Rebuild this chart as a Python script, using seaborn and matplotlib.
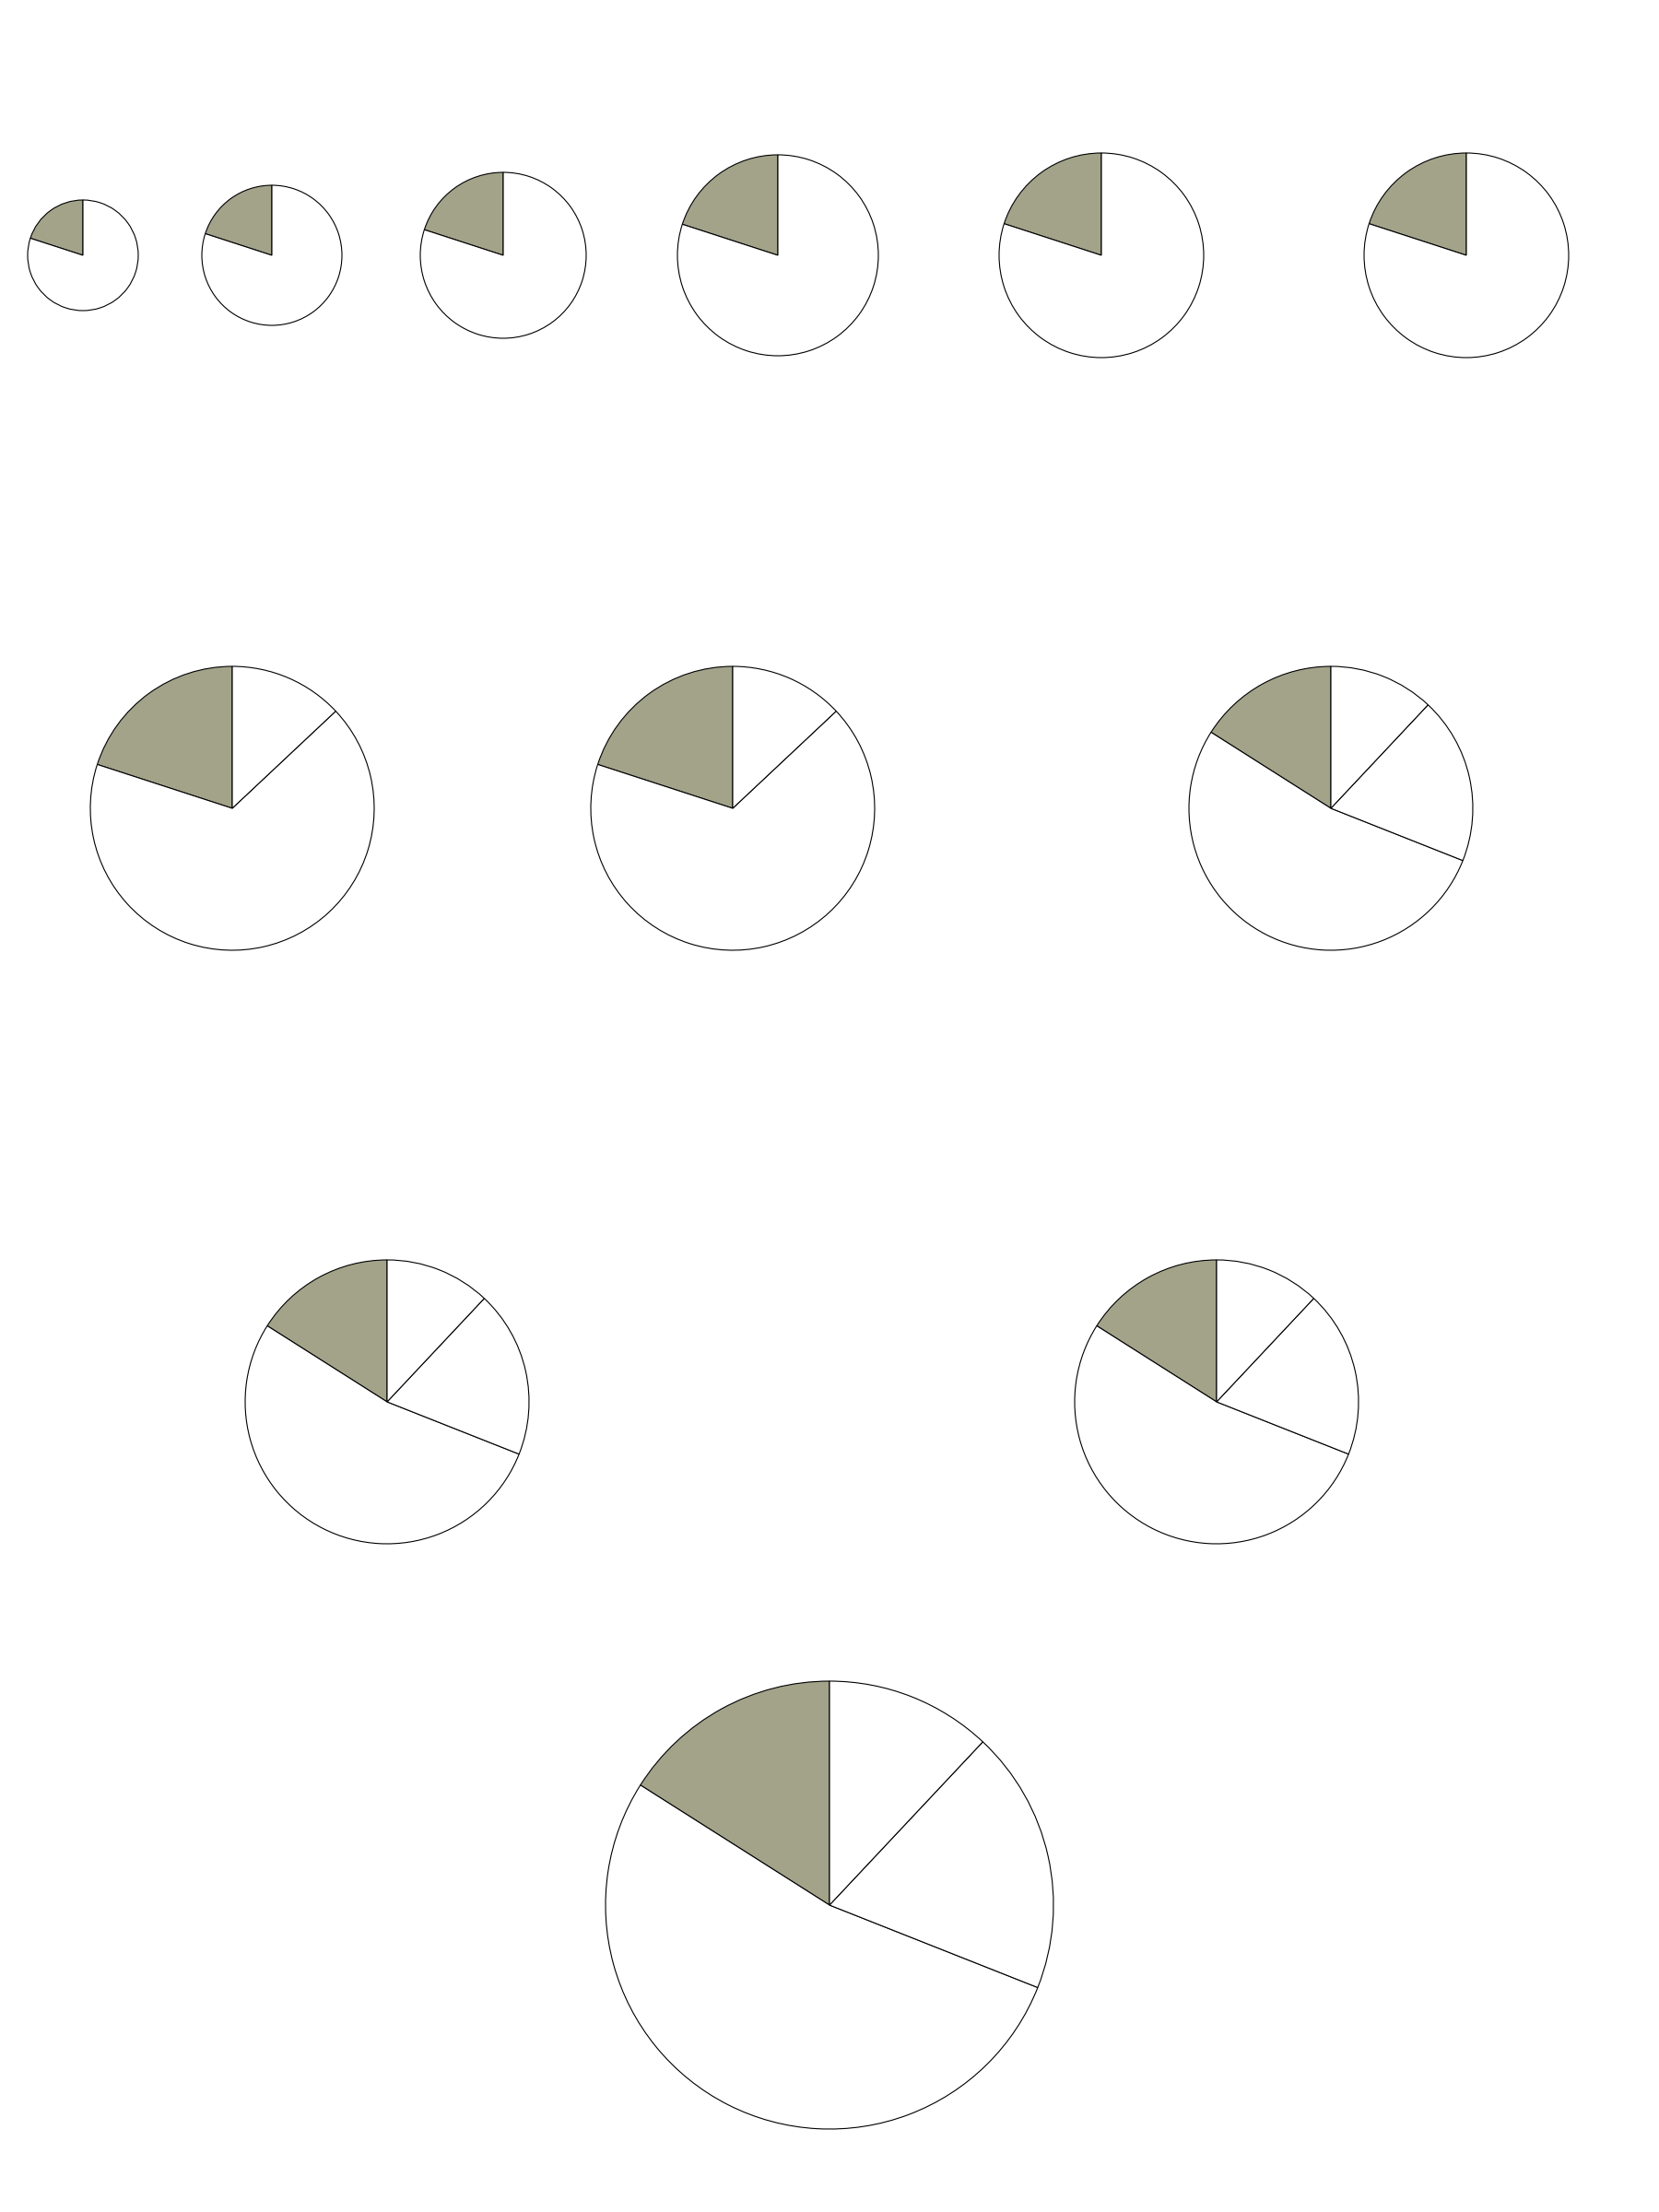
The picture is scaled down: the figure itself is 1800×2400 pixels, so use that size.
import numpy as np
import matplotlib
matplotlib.use("Agg")
import matplotlib.pyplot as plt
import seaborn as sns

# shares of each pie, first slice is the shaded one
shares_two = [20, 80]
shares_three = [20, 67, 13]
shares_four = [16, 53, 19, 12]

row1_shares = [shares_two] * 6
row2_shares = [shares_three, shares_three, shares_four]
row3_shares = [shares_four, shares_four]
row4_shares = [shares_four]

# layout in pixels (x, y from top, radius)
row1_layout = [(90, 277, 60), (295, 277, 76), (546, 277, 90),
               (844, 277, 109), (1195, 277, 111), (1591, 277, 111)]
row2_layout = [(252, 877, 154), (795, 877, 154), (1444, 877, 154)]
row3_layout = [(420, 1521, 154), (1320, 1521, 154)]
row4_layout = [(900, 2067, 243)]

shade = "#a3a38a"

sns.set_theme(style="white")
plt.rcParams['font.family'] = ['DejaVu Sans']

fig = plt.figure(figsize=(18, 24), dpi=100)
ax = fig.add_axes([0, 0, 1, 1])

W, H = 1800, 2400
for shares_list, layout in [(row1_shares, row1_layout), (row2_shares, row2_layout),
                            (row3_shares, row3_layout), (row4_shares, row4_layout)]:
    for shares, (x, y, r) in zip(shares_list, layout):
        cols = [shade] + ["white"] * (len(shares) - 1)
        ax.pie(shares, colors=cols, startangle=90, counterclock=True,
               center=(x, H - y), radius=r, frame=False,
               wedgeprops=dict(edgecolor="black", linewidth=0.8))

ax.set_xlim(0, W)
ax.set_ylim(0, H)
ax.set_aspect("equal")
ax.axis("off")

fig.savefig("out.png", dpi=100, facecolor="white")
